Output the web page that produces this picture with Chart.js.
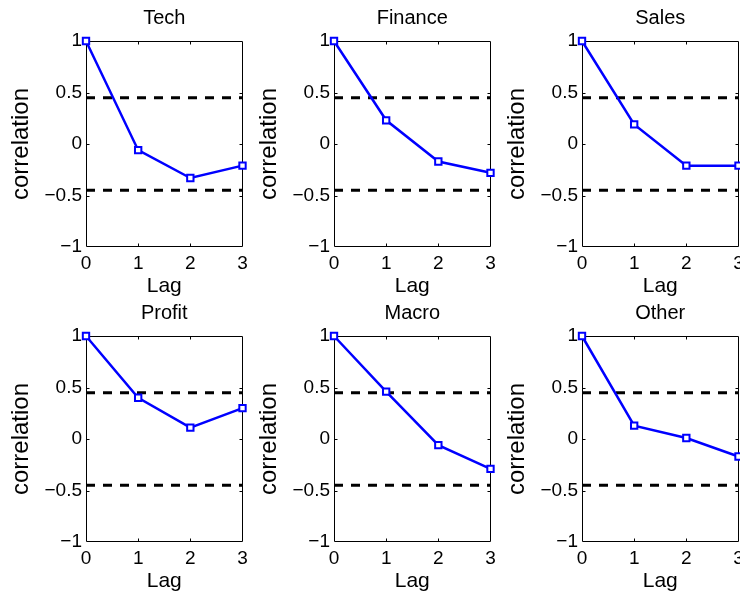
<!DOCTYPE html>
<html>
<head>
<meta charset="utf-8">
<script src="https://cdn.jsdelivr.net/npm/chart.js@4.4.1/dist/chart.umd.min.js"></script>
<style>
  html, body { margin: 0; padding: 0; background: #fff; overflow: hidden; }
  #wrap { position: relative; width: 740px; height: 594px; overflow: hidden; background: #fff; }
  #wrap canvas { position: absolute; }
</style>
</head>
<body>
<div id="wrap"></div>
<script>
// ---- data ----
const lags = [0, 1, 2, 3];
const panelTitles = ['Tech', 'Finance', 'Sales', 'Profit', 'Macro', 'Other'];
const tech    = [1, -0.06, -0.33, -0.21];
const finance = [1,  0.23, -0.17, -0.28];
const sales   = [1,  0.19, -0.21, -0.21];
const profit  = [1,  0.40,  0.11,  0.30];
const macro   = [1,  0.46, -0.06, -0.29];
const other   = [1,  0.13,  0.01, -0.17];
const yTickValues = [-1, -0.5, 0, 0.5, 1];
const yTickLabels = ['\u22121', '\u22120.5', '0', '0.5', '1'];
const xTickLabels = ['0', '1', '2', '3'];
const confLimit = 0.45;

const allSeries = [tech, finance, sales, profit, macro, other];

// ---- layout ----
const FONT = "'Liberation Sans', Arial, Helvetica, sans-serif";
Chart.defaults.font.family = FONT;
Chart.defaults.color = '#000';

const colLeft = [0, 248, 496];
const rowTop = [0, 295];
const CW = 249, CH = 300;

const framePlugin = {
  id: 'frame',
  beforeDatasetsDraw(chart) {
    const { ctx, chartArea: a, scales: { x, y } } = chart;
    const L = Math.round(a.left) + 0.5, R = Math.round(a.right) - 0.5;
    const T = Math.round(a.top) + 0.5, B = Math.round(a.bottom) - 0.5;
    ctx.save();
    ctx.strokeStyle = '#000';
    ctx.lineWidth = 1;
    ctx.beginPath();
    ctx.rect(L, T, R - L, B - T);
    const tl = 3;
    x.ticks.forEach((t, i) => {
      if (i === 0 || i === x.ticks.length - 1) return;
      const px = Math.round(x.getPixelForValue(t.value)) + 0.5;
      ctx.moveTo(px, B); ctx.lineTo(px, B - tl);
      ctx.moveTo(px, T); ctx.lineTo(px, T + tl);
    });
    y.ticks.forEach((t, i) => {
      if (i === 0 || i === y.ticks.length - 1) return;
      const py = Math.round(y.getPixelForValue(t.value)) + 0.5;
      ctx.moveTo(L, py); ctx.lineTo(L + tl, py);
      ctx.moveTo(R, py); ctx.lineTo(R - tl, py);
    });
    ctx.stroke();
    ctx.restore();
  }
};

const wrap = document.getElementById('wrap');

allSeries.forEach((series, k) => {
  const col = k % 3, row = Math.floor(k / 3);
  const cv = document.createElement('canvas');
  cv.width = CW; cv.height = CH;
  cv.style.left = colLeft[col] + 'px';
  cv.style.top = rowTop[row] + 'px';
  cv.style.width = CW + 'px';
  cv.style.height = CH + 'px';
  wrap.appendChild(cv);

  new Chart(cv, {
    type: 'line',
    data: {
      datasets: [
        {
          data: series.map((v, i) => ({ x: lags[i], y: v })),
          borderColor: '#0000ff',
          borderWidth: 2.5,
          pointStyle: 'rect',
          pointRadius: 4.5,
          pointBorderWidth: 2,
          pointBackgroundColor: '#ffffff',
          pointBorderColor: '#0000ff',
          clip: false,
          order: 0,
          tension: 0
        },
        {
          data: [{ x: lags[0], y: confLimit }, { x: lags[lags.length - 1], y: confLimit }],
          borderColor: '#000',
          borderWidth: 3,
          borderDash: [9, 8],
          pointRadius: 0,
          order: 1
        },
        {
          data: [{ x: lags[0], y: -confLimit }, { x: lags[lags.length - 1], y: -confLimit }],
          borderColor: '#000',
          borderWidth: 3,
          borderDash: [9, 8],
          pointRadius: 0,
          order: 1
        }
      ]
    },
    options: {
      responsive: false,
      animation: false,
      events: [],
      devicePixelRatio: 1,
      layout: { padding: { left: 0, right: 6, top: 0, bottom: 0 } },
      plugins: {
        legend: { display: false },
        tooltip: { enabled: false },
        title: {
          display: true,
          text: panelTitles[k],
          fullSize: false,
          color: '#000',
          font: { family: FONT, size: 20, weight: 'normal' },
          padding: { top: 6, bottom: 11 }
        }
      },
      scales: {
        x: {
          type: 'linear',
          min: lags[0],
          max: lags[lags.length - 1],
          afterBuildTicks: (s) => { s.ticks = lags.map(v => ({ value: v })); },
          grid: { display: false, drawTicks: false },
          border: { display: false },
          ticks: {
            autoSkip: false,
            maxRotation: 0,
            padding: 5.6,
            color: '#000',
            font: { family: FONT, size: 19 },
            callback: (v) => xTickLabels[lags.indexOf(v)]
          },
          title: {
            display: true,
            text: 'Lag',
            color: '#000',
            font: { family: FONT, size: 21 },
            padding: { top: 0, bottom: 1 }
          },
          afterFit: (s) => { s.height = 53; s.paddingLeft = 0; s.paddingRight = 0; }
        },
        y: {
          type: 'linear',
          min: -1,
          max: 1,
          afterBuildTicks: (s) => { s.ticks = yTickValues.map(v => ({ value: v })); },
          grid: { display: false, drawTicks: false },
          border: { display: false },
          ticks: {
            padding: 4,
            color: '#000',
            font: { family: FONT, size: 19 },
            callback: (v) => yTickLabels[yTickValues.indexOf(v)]
          },
          title: {
            display: true,
            text: 'correlation',
            color: '#000',
            font: { family: FONT, size: 24 },
            padding: { top: 7, bottom: 0 }
          },
          afterFit: (s) => { s.width = 86; }
        }
      }
    },
    plugins: [framePlugin]
  });
});
</script>
</body>
</html>
